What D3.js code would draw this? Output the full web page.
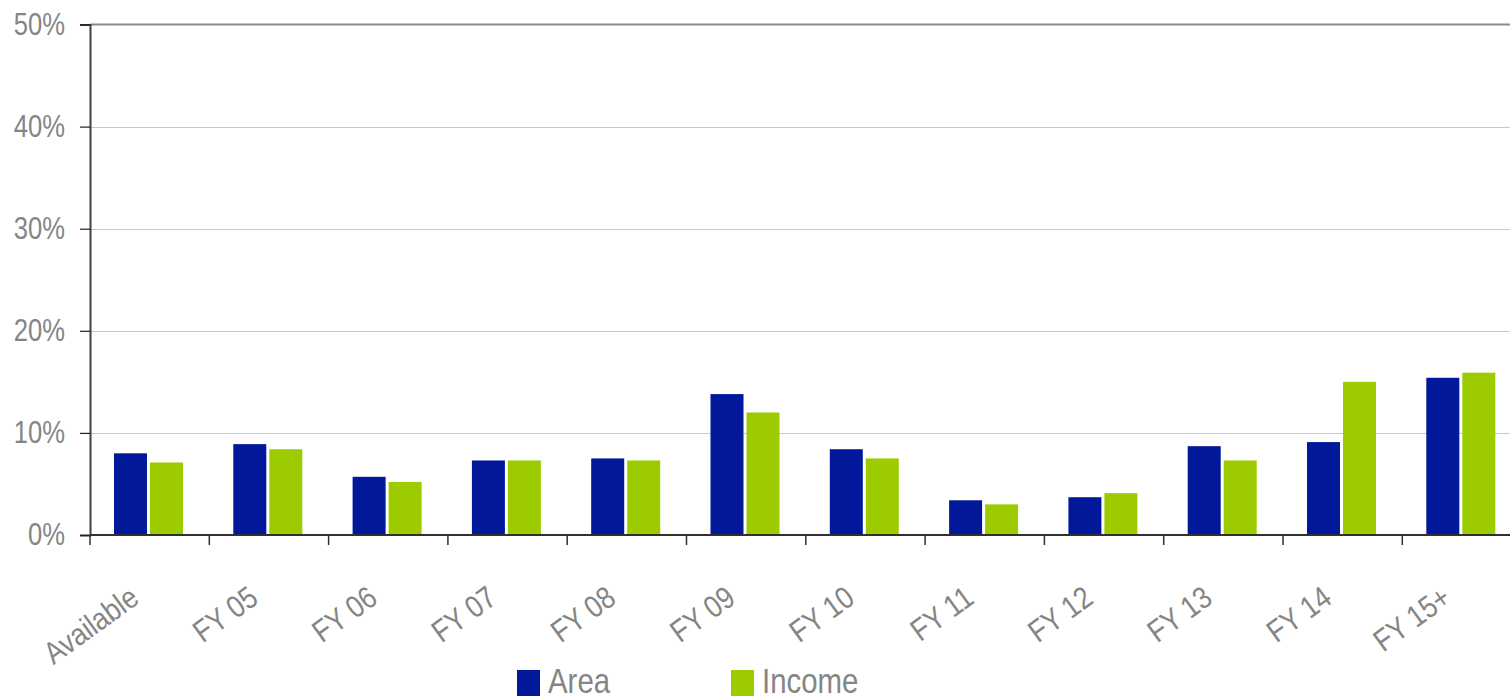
<!DOCTYPE html>
<html>
<head>
<meta charset="utf-8">
<script src="https://cdn.jsdelivr.net/npm/d3@7/dist/d3.min.js"></script>
<style>
  html, body { margin: 0; padding: 0; background: #fff; }
  svg { display: block; }
  text { font-family: "Liberation Sans", Arial, sans-serif; fill: #858585; }
</style>
</head>
<body>
<svg id="chart" width="1510" height="699"></svg>
<script>
// Share of area and income by lease expiry year
const categories = ["Available", "FY 05", "FY 06", "FY 07", "FY 08", "FY 09", "FY 10", "FY 11", "FY 12", "FY 13", "FY 14", "FY 15+"];
const seriesNames = ["Area", "Income"];
const areaValues   = [8.0, 8.9, 5.7, 7.3, 7.5, 13.8, 8.4, 3.4, 3.7, 8.7, 9.1, 15.4];
const incomeValues = [7.1, 8.4, 5.2, 7.3, 7.3, 12.0, 7.5, 3.0, 4.1, 7.3, 15.0, 15.9];
const yTicks = [0, 10, 20, 30, 40, 50];
const colors = ["#001899", "#9ccc00"];

// condensed look for all labels
const narrow = 0.8;

const svg = d3.select("#chart");
const left = 90, bandStep = 119.3;
const x0 = d3.scaleBand().domain(categories).range([left, left + bandStep * categories.length]).padding(0);
const x1 = d3.scaleBand().domain(seriesNames).range([24, 93]).paddingInner(3 / 36).paddingOuter(0);
const y = d3.scaleLinear().domain([0, 50]).range([535, 24.5]);
const color = d3.scaleOrdinal().domain(seriesNames).range(colors);

const rows = categories.map((c, i) => ({ cat: c, Area: areaValues[i], Income: incomeValues[i] }));

// gridlines
svg.append("g").selectAll("line")
  .data(yTicks.filter(t => t > 0 && t < 50))
  .join("line")
  .attr("x1", left).attr("x2", 1510)
  .attr("y1", d => Math.round(y(d)) + 0.5).attr("y2", d => Math.round(y(d)) + 0.5)
  .attr("stroke", "#c8c8c8").attr("stroke-width", 1);

// top frame line at 50%
svg.append("line")
  .attr("x1", left).attr("x2", 1510)
  .attr("y1", y(50)).attr("y2", y(50))
  .attr("stroke", "#8a8a8a").attr("stroke-width", 2);

// bars
const groups = svg.append("g").selectAll("g")
  .data(rows)
  .join("g")
  .attr("transform", d => `translate(${x0(d.cat)},0)`);
groups.selectAll("rect")
  .data(d => seriesNames.map(s => ({ key: s, value: d[s] })))
  .join("rect")
  .attr("x", d => x1(d.key))
  .attr("width", x1.bandwidth())
  .attr("y", d => y(d.value))
  .attr("height", d => y(0) - y(d.value))
  .attr("fill", d => color(d.key));

// y axis
const yAxis = d3.axisLeft(y).tickValues(yTicks).tickFormat(d => d + "%").tickSize(10).tickPadding(0);
const gy = svg.append("g").attr("transform", `translate(${left},0)`).call(yAxis);
gy.select(".domain").attr("stroke", "#404040").attr("stroke-width", 2);
gy.selectAll(".tick line").attr("stroke", "#202020").attr("stroke-width", 1.2);
gy.selectAll(".tick text")
  .attr("x", 0)
  .attr("transform", `translate(-25,0) scale(${narrow},1)`)
  .attr("font-size", 32)
  .attr("fill", "#858585")
  .attr("font-family", '"Liberation Sans", Arial, sans-serif')
  .attr("dy", "0.3em");

// x axis baseline and ticks at band boundaries
svg.append("line")
  .attr("x1", left).attr("x2", 1510)
  .attr("y1", y(0)).attr("y2", y(0))
  .attr("stroke", "#303030").attr("stroke-width", 2);
svg.append("g").selectAll("line")
  .data(categories)
  .join("line")
  .attr("x1", d => x0(d)).attr("x2", d => x0(d))
  .attr("y1", y(0)).attr("y2", y(0) + 10)
  .attr("stroke", "#303030").attr("stroke-width", 1.5);

// rotated category labels
svg.append("g").selectAll("text")
  .data(categories)
  .join("text")
  .attr("transform", d => `translate(${x0(d) + x0.bandwidth() / 2 - 9},602) rotate(-36) scale(0.86,1)`)
  .attr("text-anchor", "end")
  .attr("font-size", 31)
  .attr("fill", "#858585")
  .text(d => d);

// legend
const legend = svg.append("g").selectAll("g")
  .data(seriesNames)
  .join("g")
  .attr("transform", (d, i) => `translate(${517 + i * 214},670)`);
legend.append("rect")
  .attr("width", 23).attr("height", 26)
  .attr("fill", d => color(d));
legend.append("text")
  .attr("transform", `translate(31,22.5) scale(${narrow + 0.04},1)`)
  .attr("font-size", 35)
  .attr("fill", "#858585")
  .text(d => d);
</script>
</body>
</html>
